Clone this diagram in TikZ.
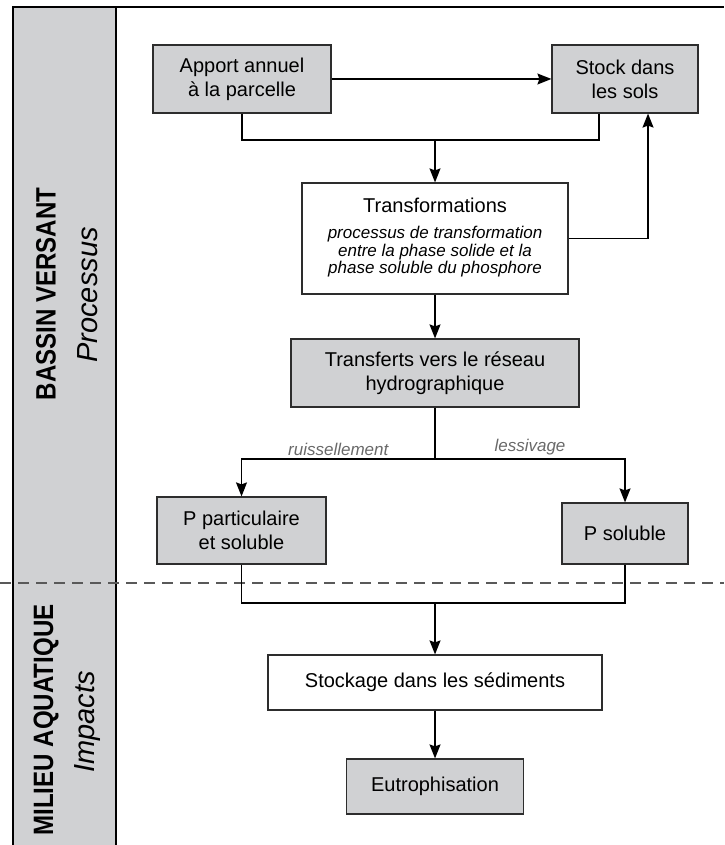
\documentclass[tikz,border=0pt]{standalone}
\usepackage{fontspec}
\setmainfont{Liberation Sans}
\newfontfamily\bandfont[FakeStretch=0.86]{Liberation Sans}
\usetikzlibrary{arrows.meta}
\definecolor{boxgray}{RGB}{208,209,211}
\definecolor{boxline}{RGB}{45,45,45}
\definecolor{labelgray}{RGB}{105,105,105}
\newcommand{\smallit}{\fontsize{17}{17.5}\selectfont\itshape}

\begin{document}
\begin{tikzpicture}[x=1pt, y=-1pt,
        box/.style={draw=boxline, line width=1.2pt, align=center, inner sep=0pt,
                    font=\fontsize{20}{24}\selectfont},
        greybox/.style={box, fill=boxgray},
        whitebox/.style={box, fill=white},
        link/.style={line width=1.5pt},
        flow/.style={link, -{Stealth[length=14pt, width=11pt, inset=2pt]}},
        lbl/.style={font=\fontsize{17}{20}\selectfont\itshape, text=labelgray, inner sep=3pt},
        bandtitle/.style={rotate=90, font=\bandfont\bfseries\fontsize{28}{32}\selectfont},
        bandsub/.style={rotate=90, font=\itshape\fontsize{29}{33}\selectfont}]
    \useasboundingbox (0,0) rectangle (724,845);

    % side band
    \fill[boxgray] (13,7) rectangle (116,845);
    \draw[line width=1.2pt] (13,845) -- (13,7) -- (724,7);
    \draw[line width=1.2pt] (116,7) -- (116,845);
    \draw[dashed, dash pattern=on 11pt off 7pt, draw=black!65, line width=1.2pt] (0,583) -- (724,583);

    \node[bandtitle] (bassin) at (46,294) {BASSIN VERSANT};
    \node[bandsub] (processus) at (88,295) {Processus};
    \node[bandtitle] (milieu) at (46,720) {MILIEU AQUATIQUE};
    \node[bandsub] (impacts) at (88,722) {Impacts};

    % boxes
    \node[greybox, minimum width=178, minimum height=68] (apport) at (242,79) {Apport annuel\\à la parcelle};
    \node[greybox, minimum width=146, minimum height=68] (stock) at (625,79) {Stock dans\\les sols};
    \node[whitebox, minimum width=266, minimum height=111] (transf) at (435,238.5)
        {Transformations\\[13pt]{\smallit\begin{tabular}{@{}c@{}}processus de transformation\\
         entre la phase solide et la\\phase soluble du phosphore\end{tabular}}};
    \node[greybox, minimum width=288, minimum height=68] (transferts) at (435,373) {Transferts vers le réseau\\hydrographique};
    \node[greybox, minimum width=169, minimum height=67] (ppart) at (241.5,530.5) {P particulaire\\et soluble};
    \node[greybox, minimum width=126, minimum height=61] (psol) at (625,533.5) {P soluble};
    \node[whitebox, minimum width=334, minimum height=55] (stockage) at (435,682.5) {Stockage dans les sédiments};
    \node[greybox, minimum width=177, minimum height=55] (eutro) at (435,786.5) {Eutrophisation};

    \coordinate (j1) at (435,140);
    \coordinate (j2) at (435,459);
    \coordinate (j3) at (435,603);

    % connectors
    \draw[flow] (apport) -- (stock);
    \draw[link] (apport.south) |- (j1) -| ([xshift=-26]stock.south);
    \draw[flow] (j1) -- (transf);
    \draw[flow] (transf.east) -| ([xshift=23]stock.south);
    \draw[flow] (transf) -- (transferts);
    \draw[link] (transferts) -- (j2);
    \draw[flow] (j2) -| node[pos=0.25, above, lbl] {ruissellement} (ppart);
    \draw[flow] (j2) -| node[pos=0.25, above, lbl] {lessivage} (psol);
    \draw[link] (ppart.south) |- (j3) -| (psol.south);
    \draw[flow] (j3) -- (stockage);
    \draw[flow] (stockage) -- (eutro);
\end{tikzpicture}
\end{document}
